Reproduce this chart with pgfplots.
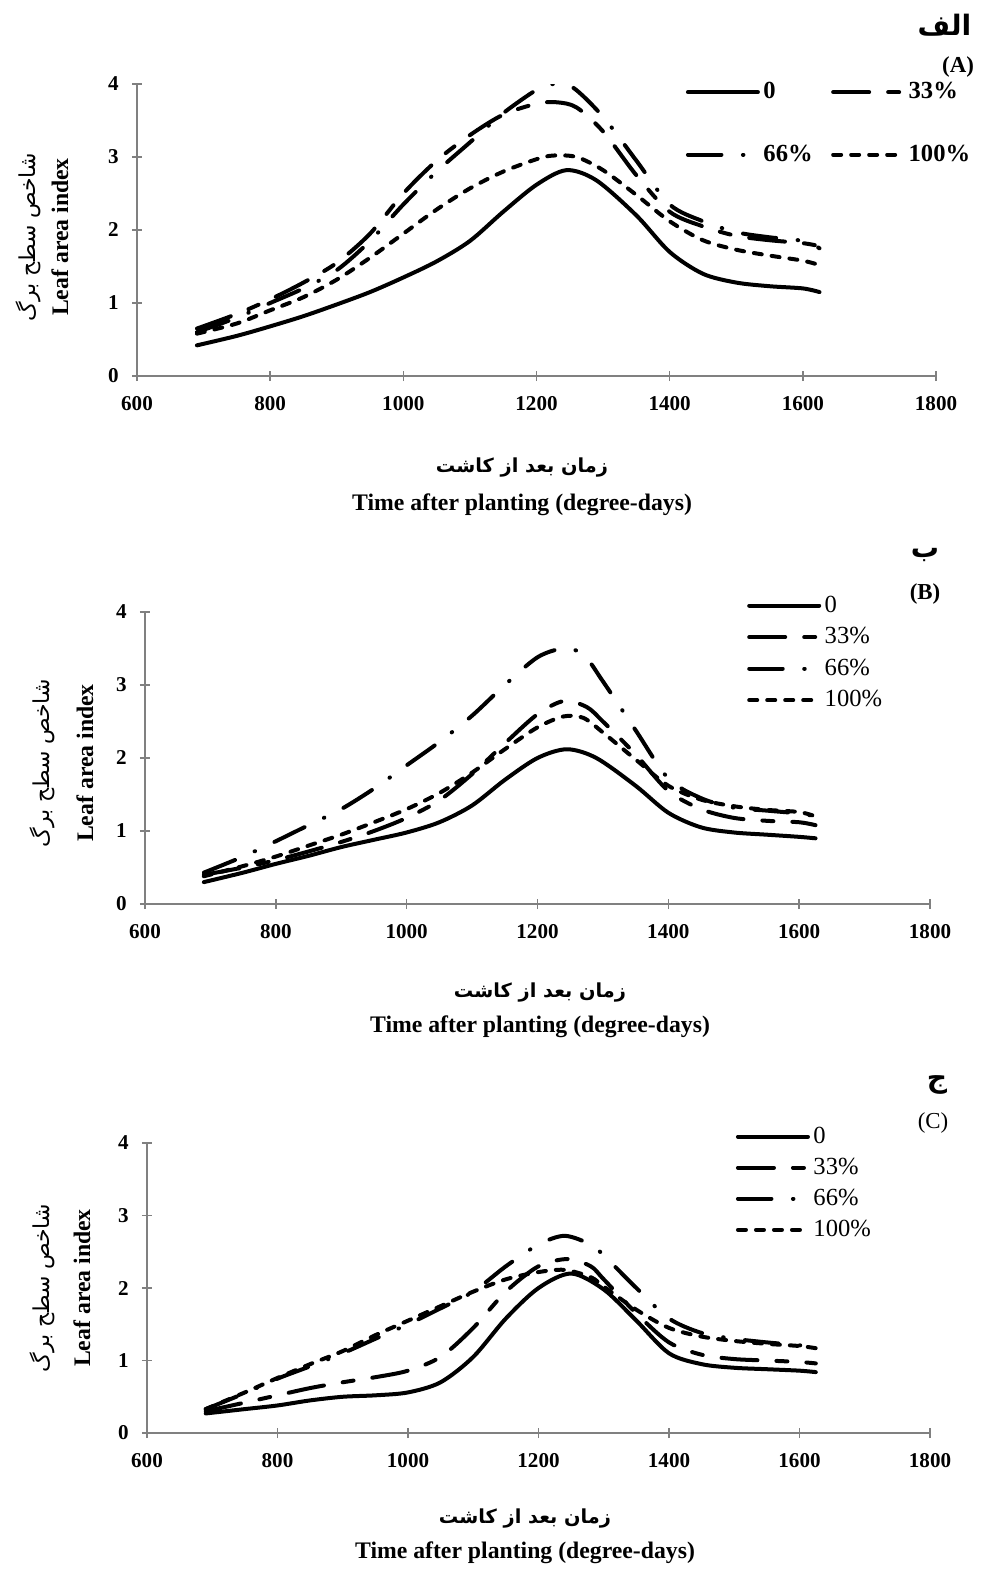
\documentclass[border=0pt]{standalone}
\usepackage{pgfplots}
\pgfplotsset{compat=1.18}
\usepackage{fontspec}
\setmainfont{Liberation Serif}
\newfontfamily\fa[Script=Arabic]{DejaVu Sans}
\TeXXeTstate=1

\newcommand\lab{\bfseries\fontsize{13.5}{15}\selectfont}
\newcommand\falab{\fa\fontsize{12.5}{15}\selectfont}
\newcommand\faxlab{\fa\bfseries\fontsize{11}{14}\selectfont}

\pgfplotsset{
  lai/.style={
    scale only axis, xmin=600, xmax=1800, ymin=0, ymax=4,
    xtick={600,800,...,1800}, ytick={0,1,2,3,4},
    axis x line*=bottom, axis y line*=left,
    axis line style={-, draw=black!50, line width=0.9pt},
    major tick style={draw=black!50, line width=0.9pt},
    tick align=center, major tick length=0.2cm,
    ticklabel style={font=\bfseries\fontsize{12}{14}\selectfont},
    /pgf/number format/assume math mode=true,
    /pgf/number format/1000 sep={},
    xticklabel style={yshift=-0.18cm},
    yticklabel style={xshift=-0.14cm},
    legend cell align=left,
    legend style={draw=none, fill=none, anchor=north west},
    legend image code/.code={\draw[##1] (0cm,0cm) -- (1.4cm,0cm);},
  },
  s0/.style={line width=0.08cm, line cap=round, smooth},
  s33/.style={line width=0.08cm, line cap=round, smooth,
    dash pattern=on 0.72cm off 0.38cm on 0.22cm off 0.38cm},
  s66/.style={line width=0.08cm, line cap=round, smooth,
    dash pattern=on 0.67cm off 0.43cm on 0.01cm off 0.43cm},
  s100/.style={line width=0.08cm, line cap=round, smooth,
    dash pattern=on 0.16cm off 0.2cm},
}

\begin{document}
\begin{tikzpicture}
\path[use as bounding box] (0,0) rectangle (19.68,-31.42);

% ---------- panel A ----------
\begin{axis}[lai, at={(2.74cm,-7.52cm)}, anchor=south west,
  width=15.98cm, height=5.84cm,
  legend columns=2,
  legend style={at={(axis description cs:0.68,1.03)},
    font=\bfseries\fontsize{14}{16}\selectfont, row sep=0.73cm,
    /tikz/every even column/.append style={column sep=0.3cm}}]
\addplot[s0] coordinates {(690,0.42)(750,0.55)(800,0.68)(850,0.82)(900,0.98)(950,1.15)(1000,1.35)(1050,1.57)(1100,1.85)(1150,2.25)(1200,2.62)(1245,2.82)(1290,2.68)(1350,2.2)(1400,1.7)(1450,1.4)(1500,1.28)(1550,1.23)(1600,1.2)(1625,1.15)};
\addplot[s33] coordinates {(690,0.65)(750,0.85)(800,1.05)(850,1.28)(900,1.55)(950,1.95)(1000,2.5)(1050,2.95)(1100,3.3)(1150,3.58)(1200,3.73)(1230,3.75)(1260,3.68)(1300,3.35)(1350,2.75)(1400,2.25)(1450,2.05)(1500,1.92)(1550,1.86)(1600,1.82)(1625,1.78)};
\addplot[s66] coordinates {(690,0.6)(750,0.8)(800,1.0)(850,1.2)(900,1.45)(950,1.85)(1000,2.35)(1050,2.8)(1100,3.2)(1150,3.6)(1200,3.92)(1225,4.0)(1255,3.95)(1300,3.55)(1350,2.95)(1400,2.35)(1450,2.12)(1500,1.97)(1550,1.9)(1600,1.85)(1625,1.75)};
\addplot[s100] coordinates {(690,0.58)(750,0.72)(800,0.9)(850,1.08)(900,1.32)(950,1.62)(1000,1.95)(1050,2.28)(1100,2.57)(1150,2.8)(1200,2.97)(1225,3.02)(1260,3.0)(1300,2.82)(1350,2.48)(1400,2.12)(1450,1.86)(1500,1.73)(1550,1.65)(1600,1.58)(1625,1.52)};
\legend{0,33\%,66\%,100\%}
\end{axis}
\node[anchor=east] at (19.55,-0.5) {\fa\bfseries\fontsize{16}{18}\selectfont\beginR الف\endR};
\node at (19.16,-1.34) {\bfseries\fontsize{13}{15}\selectfont (A)};
\node at (10.44,-9.36) {\faxlab\beginR زمان بعد از کاشت\endR};
\node at (10.44,-10.10) {\lab Time after planting (degree-days)};
\node[rotate=90] at (0.56,-4.74) {\falab\beginR شاخص سطح برگ\endR};
\node[rotate=90] at (1.2,-4.74) {\lab Leaf area index};

% ---------- panel B ----------
\begin{axis}[lai, at={(2.90cm,-18.08cm)}, anchor=south west,
  width=15.70cm, height=5.84cm,
  legend style={at={(axis description cs:0.76,1.08)},
    font=\fontsize{14}{16}\selectfont, row sep=0.11cm}]
\addplot[s0] coordinates {(690,0.3)(750,0.43)(800,0.55)(850,0.66)(900,0.78)(950,0.88)(1000,0.98)(1050,1.12)(1100,1.35)(1150,1.7)(1200,2.0)(1245,2.12)(1290,2.0)(1350,1.62)(1400,1.25)(1450,1.05)(1500,0.98)(1550,0.95)(1600,0.92)(1625,0.9)};
\addplot[s33] coordinates {(690,0.4)(750,0.5)(800,0.6)(850,0.72)(900,0.85)(950,1.0)(1000,1.18)(1050,1.42)(1100,1.78)(1150,2.2)(1200,2.6)(1240,2.78)(1275,2.7)(1300,2.5)(1350,2.05)(1400,1.55)(1450,1.3)(1500,1.18)(1550,1.14)(1600,1.12)(1625,1.08)};
\addplot[s66] coordinates {(690,0.43)(750,0.65)(800,0.86)(850,1.08)(900,1.3)(950,1.58)(1000,1.9)(1050,2.22)(1100,2.58)(1150,3.0)(1200,3.38)(1240,3.5)(1270,3.42)(1300,3.05)(1350,2.38)(1400,1.72)(1450,1.45)(1500,1.32)(1550,1.28)(1600,1.24)(1625,1.2)};
\addplot[s100] coordinates {(690,0.38)(750,0.52)(800,0.65)(850,0.8)(900,0.95)(950,1.12)(1000,1.3)(1050,1.52)(1100,1.8)(1150,2.12)(1200,2.42)(1240,2.57)(1270,2.55)(1300,2.35)(1350,1.98)(1400,1.62)(1450,1.43)(1500,1.34)(1550,1.29)(1600,1.26)(1625,1.2)};
\legend{0,33\%,66\%,100\%}
\end{axis}
\node at (18.5,-11.1) {\fa\bfseries\fontsize{16}{18}\selectfont\beginR ب\endR};
\node at (18.5,-11.88) {\bfseries\fontsize{13}{15}\selectfont (B)};
\node at (10.8,-19.86) {\faxlab\beginR زمان بعد از کاشت\endR};
\node at (10.8,-20.54) {\lab Time after planting (degree-days)};
\node[rotate=90] at (0.84,-15.26) {\falab\beginR شاخص سطح برگ\endR};
\node[rotate=90] at (1.7,-15.26) {\lab Leaf area index};

% ---------- panel C ----------
\begin{axis}[lai, at={(2.94cm,-28.66cm)}, anchor=south west,
  width=15.66cm, height=5.80cm,
  legend style={at={(axis description cs:0.745,1.08)},
    font=\fontsize{14}{16}\selectfont, row sep=0.1cm}]
\addplot[s0] coordinates {(690,0.27)(750,0.33)(800,0.38)(850,0.45)(900,0.5)(950,0.52)(1000,0.56)(1050,0.7)(1100,1.05)(1150,1.58)(1200,2.0)(1250,2.2)(1300,1.98)(1350,1.55)(1400,1.1)(1450,0.95)(1500,0.9)(1550,0.88)(1600,0.86)(1625,0.84)};
\addplot[s33] coordinates {(690,0.3)(750,0.42)(800,0.52)(850,0.62)(900,0.7)(950,0.77)(1000,0.86)(1050,1.05)(1100,1.45)(1150,1.95)(1200,2.3)(1245,2.4)(1280,2.3)(1300,2.12)(1350,1.65)(1400,1.25)(1450,1.08)(1500,1.02)(1550,1.0)(1600,0.98)(1625,0.96)};
\addplot[s66] coordinates {(690,0.33)(750,0.55)(800,0.75)(850,0.92)(900,1.1)(950,1.3)(1000,1.5)(1050,1.72)(1100,1.95)(1150,2.3)(1200,2.6)(1240,2.72)(1280,2.6)(1300,2.45)(1350,2.0)(1400,1.58)(1450,1.38)(1500,1.3)(1550,1.25)(1600,1.21)(1625,1.18)};
\addplot[s100] coordinates {(690,0.33)(750,0.56)(800,0.76)(850,0.95)(900,1.13)(950,1.35)(1000,1.55)(1050,1.75)(1100,1.95)(1150,2.12)(1200,2.22)(1240,2.25)(1280,2.15)(1300,2.02)(1350,1.7)(1400,1.45)(1450,1.33)(1500,1.27)(1550,1.23)(1600,1.2)(1625,1.17)};
\legend{0,33\%,66\%,100\%}
\end{axis}
\node at (18.74,-21.7) {\fa\bfseries\fontsize{16}{18}\selectfont\beginR ج\endR};
\node at (18.66,-22.46) {\fontsize{13}{15}\selectfont (C)};
\node at (10.5,-30.36) {\faxlab\beginR زمان بعد از کاشت\endR};
\node at (10.5,-31.06) {\lab Time after planting (degree-days)};
\node[rotate=90] at (0.84,-25.76) {\falab\beginR شاخص سطح برگ\endR};
\node[rotate=90] at (1.64,-25.76) {\lab Leaf area index};
\end{tikzpicture}
\end{document}
